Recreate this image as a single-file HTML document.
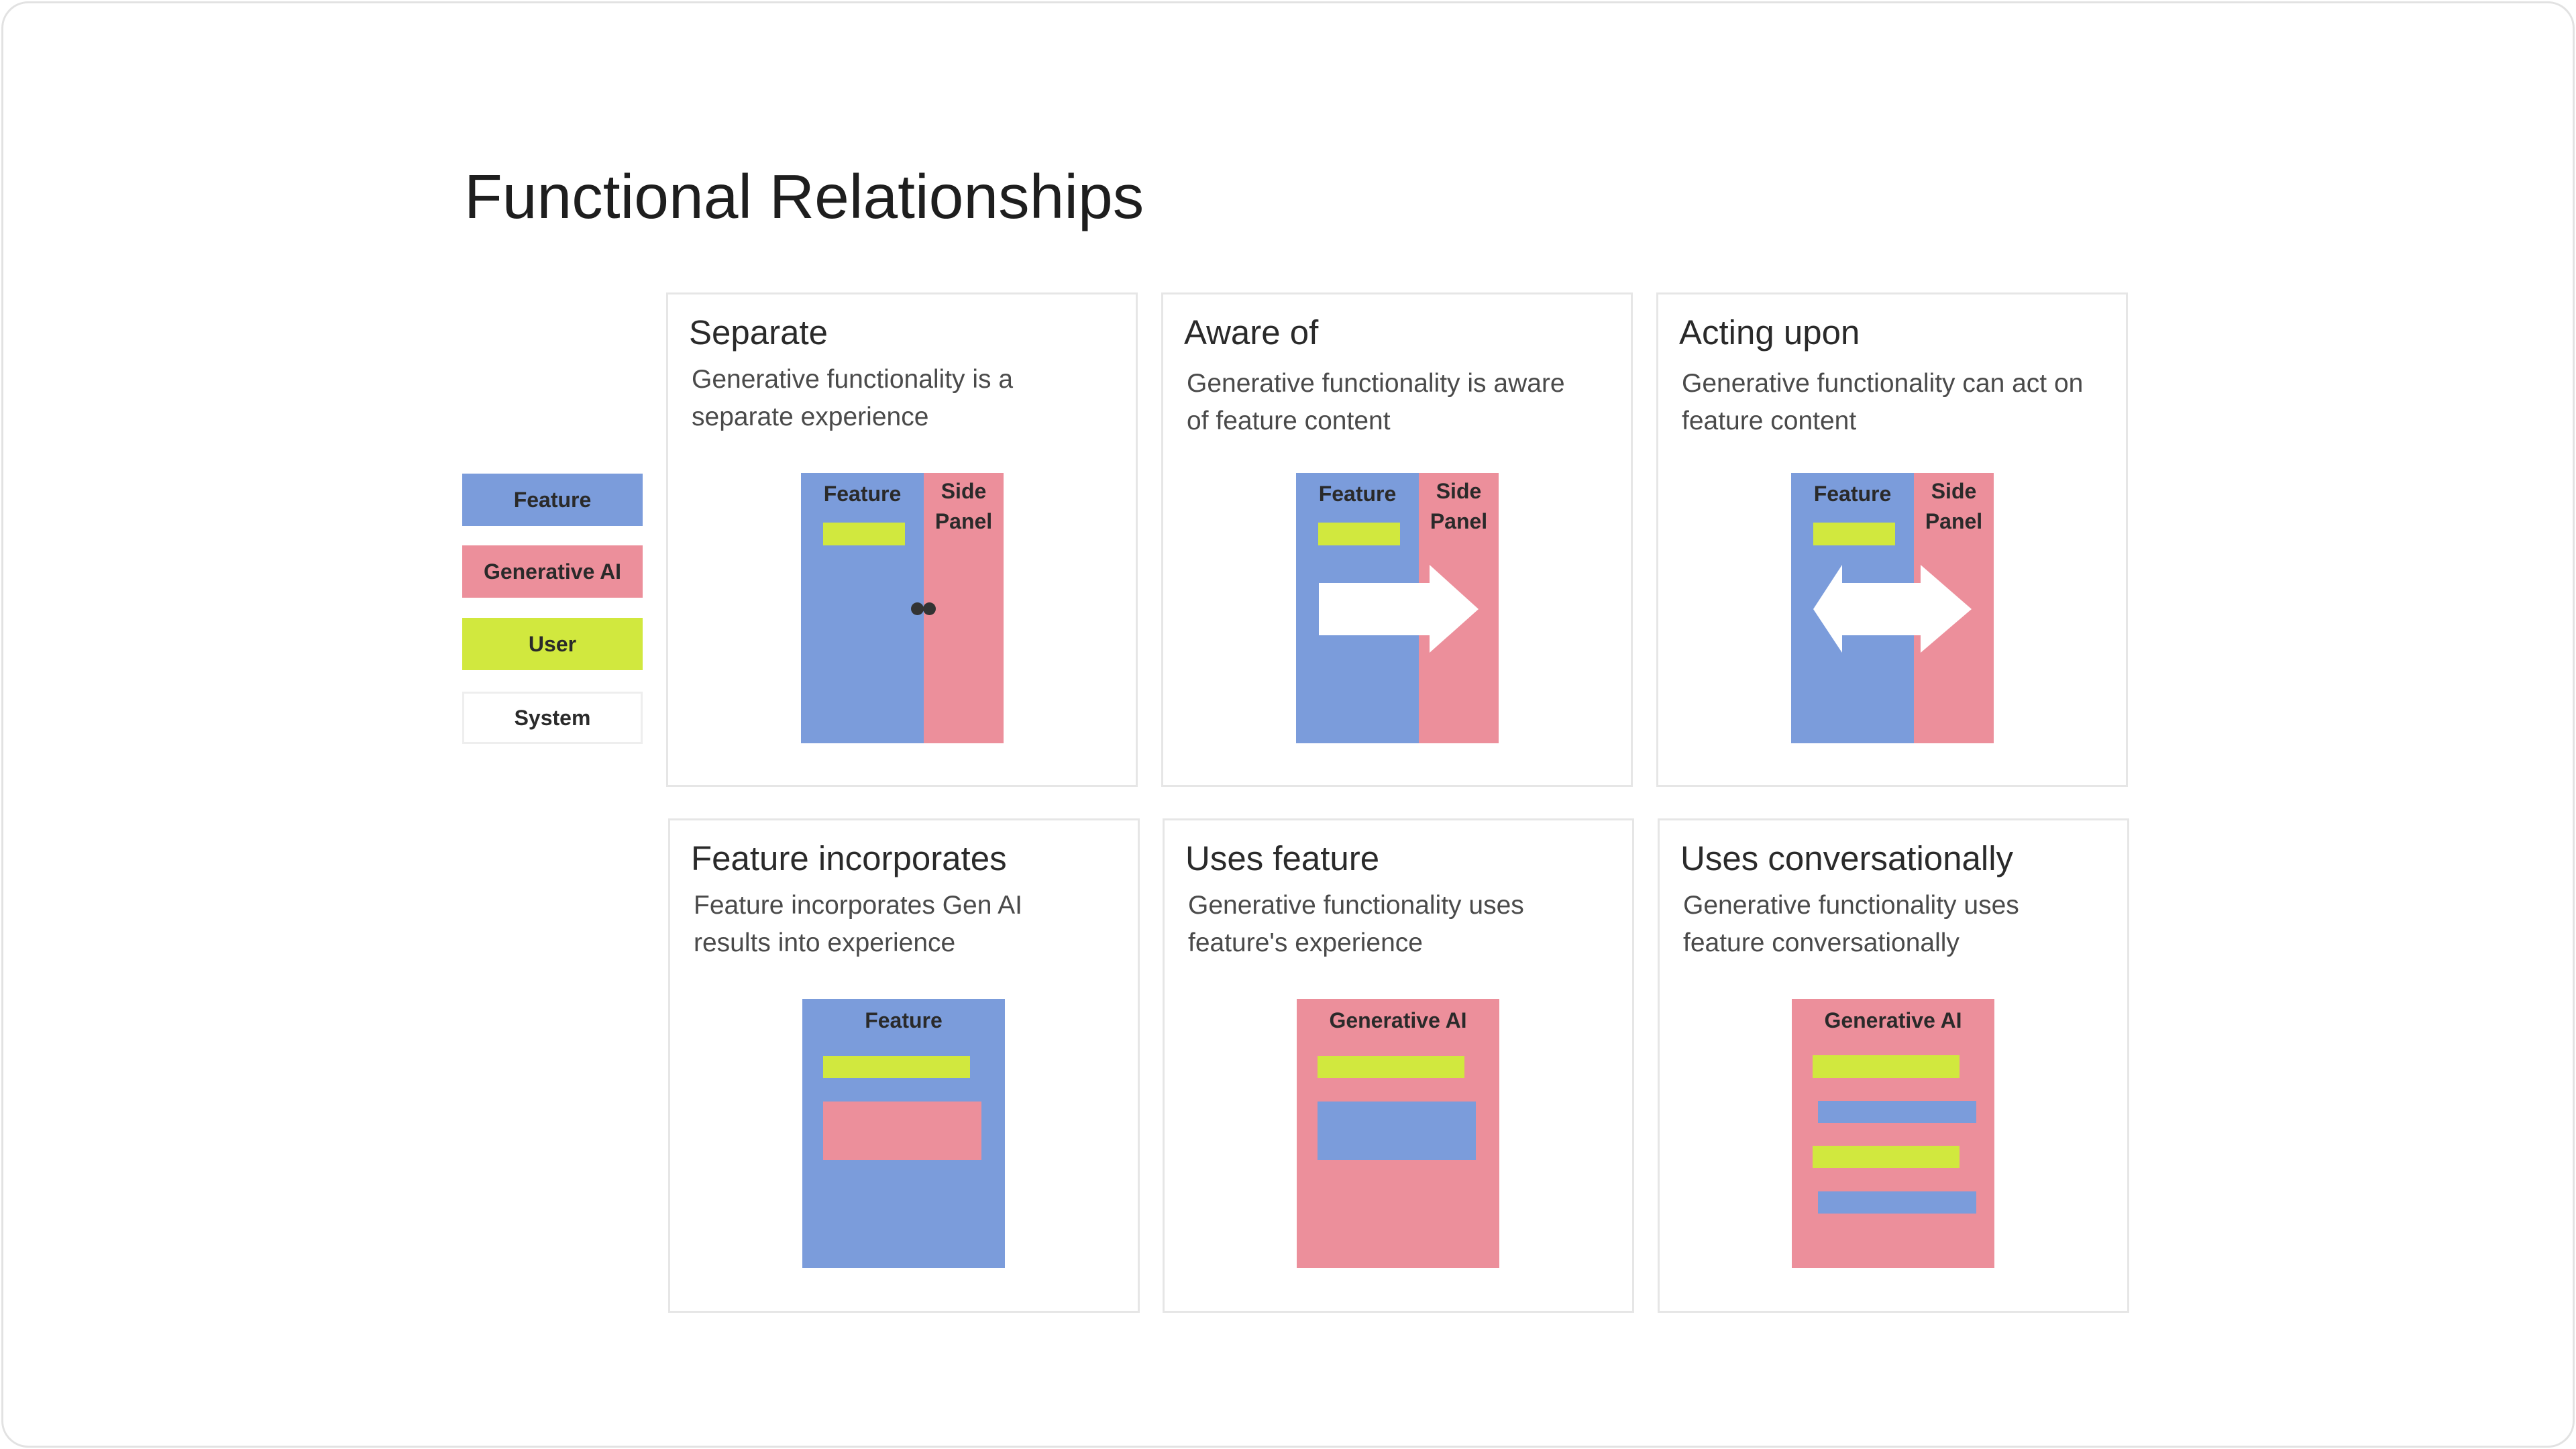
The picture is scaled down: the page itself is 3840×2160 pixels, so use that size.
<!DOCTYPE html>
<html><head><meta charset="utf-8"><style>
*{margin:0;padding:0;box-sizing:border-box}
body{width:3840px;height:2160px;background:#fff;position:relative;overflow:hidden;font-family:"Liberation Sans",sans-serif}
.frame{position:absolute;left:2px;top:2px;width:3836px;height:2156px;border:3px solid #e2e2e2;border-radius:40px}
.abs{position:absolute}
.title{left:692px;top:247px;font-size:93px;line-height:1;color:#1e1e1e;white-space:nowrap}
.leg{position:absolute;left:689px;width:269px;height:78px;font-weight:bold;font-size:32px;line-height:78px;text-align:center;color:#2a2a2a}
.card{position:absolute;width:703px;height:737px;border:3px solid #e6e6e6;background:#fff}
.card h2{position:absolute;left:31px;top:31px;font-weight:normal;font-size:51px;line-height:1;color:#2a2a2a;white-space:nowrap}
.card p{position:absolute;left:35px;top:99px;font-size:39px;line-height:56px;color:#4a4a4a;white-space:nowrap}
.dg{position:absolute;left:198px;top:266px;width:302px;height:403px}
.blue{background:#7b9cdb}.pink{background:#ec8f9b}.green{background:#d1e83e}
.lbl{position:absolute;font-weight:bold;font-size:32px;line-height:45px;color:#2a2a2a;text-align:center}
</style></head><body>
<div class="frame"></div>
<div class="abs title">Functional Relationships</div>

<div class="leg blue" style="top:706px">Feature</div>
<div class="leg pink" style="top:813px">Generative AI</div>
<div class="leg green" style="top:921px">User</div>
<div class="leg" style="top:1031px;border:3px solid #eee;line-height:72px">System</div>

<!-- Row 1 -->
<div class="card" style="left:993px;top:436px">
 <h2>Separate</h2>
 <p>Generative functionality is a<br>separate experience</p>
 <div class="dg">
  <div class="abs blue" style="left:0;top:0;width:183px;height:403px"></div>
  <div class="abs pink" style="left:183px;top:0;width:119px;height:403px"></div>
  <div class="lbl" style="left:0;top:9px;width:183px">Feature</div>
  <div class="lbl" style="left:183px;top:5px;width:119px">Side<br>Panel</div>
  <div class="abs green" style="left:33px;top:74px;width:122px;height:34px"></div>
  <div class="abs" style="left:164px;top:193px;width:19px;height:19px;border-radius:50%;background:#333"></div>
  <div class="abs" style="left:182px;top:193px;width:19px;height:19px;border-radius:50%;background:#333"></div>
 </div>
</div>

<div class="card" style="left:1731px;top:436px">
 <h2>Aware of</h2>
 <p style="top:105px">Generative functionality is aware<br>of feature content</p>
 <div class="dg">
  <div class="abs blue" style="left:0;top:0;width:183px;height:403px"></div>
  <div class="abs pink" style="left:183px;top:0;width:119px;height:403px"></div>
  <div class="lbl" style="left:0;top:9px;width:183px">Feature</div>
  <div class="lbl" style="left:183px;top:5px;width:119px">Side<br>Panel</div>
  <div class="abs green" style="left:33px;top:74px;width:122px;height:34px"></div>
  <svg class="abs" style="left:0;top:0" width="302" height="403"><polygon points="34,164 199,164 199,137 272,203 199,268 199,242 34,242" fill="#fff"/></svg>
 </div>
</div>

<div class="card" style="left:2469px;top:436px">
 <h2>Acting upon</h2>
 <p style="top:105px">Generative functionality can act on<br>feature content</p>
 <div class="dg">
  <div class="abs blue" style="left:0;top:0;width:183px;height:403px"></div>
  <div class="abs pink" style="left:183px;top:0;width:119px;height:403px"></div>
  <div class="lbl" style="left:0;top:9px;width:183px">Feature</div>
  <div class="lbl" style="left:183px;top:5px;width:119px">Side<br>Panel</div>
  <div class="abs green" style="left:33px;top:74px;width:122px;height:34px"></div>
  <svg class="abs" style="left:0;top:0" width="302" height="403"><polygon points="33,203 76,137 76,164 193,164 193,137 269,203 193,268 193,242 76,242 76,268" fill="#fff"/></svg>
 </div>
</div>

<!-- Row 2 -->
<div class="card" style="left:996px;top:1220px">
 <h2>Feature incorporates</h2>
 <p>Feature incorporates Gen AI<br>results into experience</p>
 <div class="dg" style="left:197px;top:266px;height:401px">
  <div class="abs blue" style="left:0;top:0;width:302px;height:401px"></div>
  <div class="lbl" style="left:0;top:10px;width:302px">Feature</div>
  <div class="abs green" style="left:31px;top:85px;width:219px;height:33px"></div>
  <div class="abs pink" style="left:31px;top:153px;width:236px;height:87px"></div>
 </div>
</div>

<div class="card" style="left:1733px;top:1220px">
 <h2>Uses feature</h2>
 <p>Generative functionality uses<br>feature's experience</p>
 <div class="dg" style="left:197px;top:266px;height:401px">
  <div class="abs pink" style="left:0;top:0;width:302px;height:401px"></div>
  <div class="lbl" style="left:0;top:10px;width:302px">Generative AI</div>
  <div class="abs green" style="left:31px;top:85px;width:219px;height:33px"></div>
  <div class="abs blue" style="left:31px;top:153px;width:236px;height:87px"></div>
 </div>
</div>

<div class="card" style="left:2471px;top:1220px">
 <h2>Uses conversationally</h2>
 <p>Generative functionality uses<br>feature conversationally</p>
 <div class="dg" style="left:197px;top:266px;height:401px">
  <div class="abs pink" style="left:0;top:0;width:302px;height:401px"></div>
  <div class="lbl" style="left:0;top:10px;width:302px">Generative AI</div>
  <div class="abs green" style="left:31px;top:84px;width:219px;height:34px"></div>
  <div class="abs blue" style="left:39px;top:152px;width:236px;height:33px"></div>
  <div class="abs green" style="left:31px;top:219px;width:219px;height:33px"></div>
  <div class="abs blue" style="left:39px;top:287px;width:236px;height:33px"></div>
 </div>
</div>
</body></html>
